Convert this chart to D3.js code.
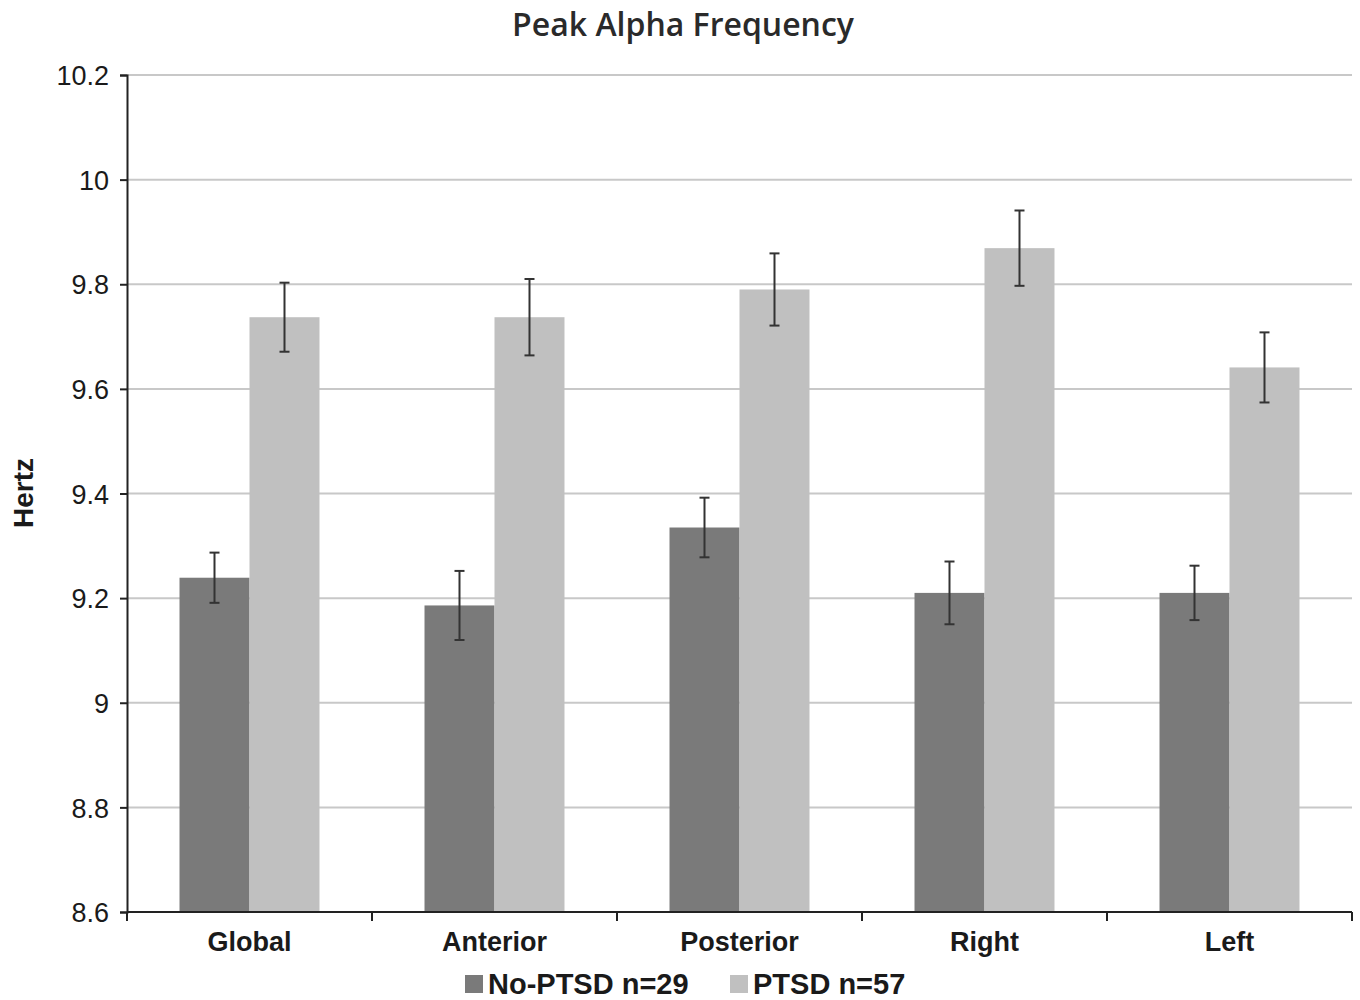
<!DOCTYPE html>
<html>
<head>
<meta charset="utf-8">
<script src="https://cdn.jsdelivr.net/npm/d3@7"></script>
<style>
    body { margin: 0; background: #fff; }
    text { font-family: "Liberation Sans", Arial, sans-serif; fill: #1a1a1a; }
</style>
</head>
<body>
<script>
// data
var regions = ["Global", "Anterior", "Posterior", "Right", "Left"];
var groups = ["No-PTSD n=29", "PTSD n=57"];
var noPtsd = [9.239, 9.186, 9.335, 9.210, 9.210];
var noPtsdErr = [0.048, 0.066, 0.057, 0.060, 0.052];
var ptsd = [9.737, 9.737, 9.790, 9.869, 9.641];
var ptsdErr = [0.066, 0.073, 0.069, 0.072, 0.067];
var yTicks = [8.6, 8.8, 9, 9.2, 9.4, 9.6, 9.8, 10, 10.2];

var colors = ["#7a7a7a", "#c0c0c0"];

var margin = {top: 75, right: 8, bottom: 88, left: 127},
    width = 1360 - margin.left - margin.right,
    height = 1000 - margin.top - margin.bottom;

var svg = d3.select("body").append("svg")
    .attr("width", 1360)
    .attr("height", 1000);

var g = svg.append("g")
    .attr("transform", "translate(" + margin.left + "," + margin.top + ")");

var x0 = d3.scaleBand().domain(regions).range([0, width])
    .paddingInner(0.4286).paddingOuter(0.2143);
var x1 = d3.scaleBand().domain(groups).range([0, x0.bandwidth()]);
var y = d3.scaleLinear().domain([8.6, 10.2]).range([height, 0]);

// gridlines
g.selectAll(".grid")
    .data(yTicks.slice(1))
    .enter().append("line")
    .attr("x1", 0).attr("x2", width)
    .attr("y1", function(d) { return y(d); })
    .attr("y2", function(d) { return y(d); })
    .style("stroke", "#c8c8c8")
    .style("stroke-width", 2);

var rows = regions.map(function(r, i) {
    return [
        {region: r, group: groups[0], v: noPtsd[i], e: noPtsdErr[i]},
        {region: r, group: groups[1], v: ptsd[i], e: ptsdErr[i]}
    ];
});

var cat = g.selectAll(".cat")
    .data(rows)
    .enter().append("g")
    .attr("transform", function(d) { return "translate(" + x0(d[0].region) + ",0)"; });

cat.selectAll("rect")
    .data(function(d) { return d; })
    .enter().append("rect")
    .attr("x", function(d) { return x1(d.group); })
    .attr("width", x1.bandwidth())
    .attr("y", function(d) { return y(d.v); })
    .attr("height", function(d) { return height - y(d.v); })
    .style("fill", function(d, i) { return colors[i]; });

// error bars
var eb = cat.selectAll(".err")
    .data(function(d) { return d; })
    .enter().append("g")
    .attr("transform", function(d) {
        return "translate(" + (x1(d.group) + x1.bandwidth() / 2) + ",0)";
    })
    .style("stroke", "#333")
    .style("stroke-width", 2);

eb.append("line")
    .attr("y1", function(d) { return y(d.v + d.e); })
    .attr("y2", function(d) { return y(d.v - d.e); });
eb.append("line")
    .attr("x1", -5).attr("x2", 5)
    .attr("y1", function(d) { return y(d.v + d.e); })
    .attr("y2", function(d) { return y(d.v + d.e); });
eb.append("line")
    .attr("x1", -5).attr("x2", 5)
    .attr("y1", function(d) { return y(d.v - d.e); })
    .attr("y2", function(d) { return y(d.v - d.e); });

// y axis
var yAxis = d3.axisLeft(y).tickValues(yTicks)
    .tickFormat(function(d) { return d3.format("")(+d.toFixed(1)); })
    .tickSize(7).tickPadding(11);
var gy = g.append("g").call(yAxis);
gy.select(".domain").attr("stroke", "#222").attr("stroke-width", 2);
gy.selectAll(".tick line").attr("stroke", "#222").attr("stroke-width", 2);
gy.selectAll("text")
    .style("font-size", "27px")
    .attr("dy", "0.36em")
    .style("fill", "#1a1a1a");

// x axis: ticks sit on the band boundaries
var gx = g.append("g").attr("transform", "translate(0," + height + ")");
gx.append("line")
    .attr("x1", 0).attr("x2", width)
    .style("stroke", "#222").style("stroke-width", 2);
var half = (x0.step() - x0.bandwidth()) / 2;
var bounds = regions.map(function(r) { return x0(r) - half; })
    .concat([x0(regions[regions.length - 1]) + x0.bandwidth() + half]);
gx.selectAll(".xt")
    .data(bounds)
    .enter().append("line")
    .attr("x1", function(d) { return d; })
    .attr("x2", function(d) { return d; })
    .attr("y1", 0).attr("y2", 9)
    .style("stroke", "#222").style("stroke-width", 2);
gx.selectAll(".xl")
    .data(regions)
    .enter().append("text")
    .attr("x", function(d) { return x0(d) + x0.bandwidth() / 2; })
    .attr("y", 39)
    .attr("text-anchor", "middle")
    .style("font-size", "27px")
    .style("font-weight", "bold")
    .text(function(d) { return d; });

// title
svg.append("text")
    .attr("x", 683).attr("y", 36)
    .attr("text-anchor", "middle")
    .style("font-family", "'Open Sans', sans-serif")
    .style("font-weight", 600)
    .style("font-size", "32px")
    .style("fill", "#2a2a2a")
    .text("Peak Alpha Frequency");

// y label
svg.append("text")
    .attr("transform", "translate(33,493) rotate(-90)")
    .attr("text-anchor", "middle")
    .style("font-size", "28px")
    .style("font-weight", "bold")
    .text("Hertz");

// legend
var legendX = [465, 730];
var lg = svg.selectAll(".lg")
    .data(groups)
    .enter().append("g")
    .attr("transform", function(d, i) { return "translate(" + legendX[i] + ",975)"; });
lg.append("rect")
    .attr("width", 18).attr("height", 18)
    .style("fill", function(d, i) { return colors[i]; });
lg.append("text")
    .attr("x", 23).attr("y", 19)
    .style("font-size", "29px")
    .style("font-weight", "bold")
    .text(function(d) { return d; });
</script>
</body>
</html>
